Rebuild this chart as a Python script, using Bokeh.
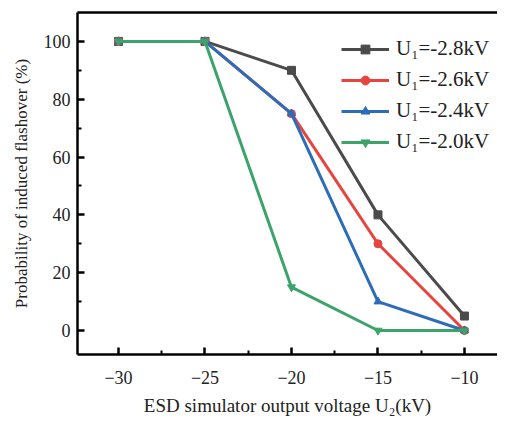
from bokeh.plotting import figure
from bokeh.models import LinearAxis, Range1d, FixedTicker, Legend, LegendItem, CustomJSTickFormatter
from bokeh.embed import file_html
from bokeh.resources import INLINE

x_vals = [-30, -25, -20, -15, -10]
s28 = [100, 100, 90, 40, 5]
s26 = [100, 100, 75, 30, 0]
s24 = [100, 100, 75, 10, 0]
s20 = [100, 100, 15, 0, 0]
labels = ["U\u2081=-2.8kV", "U\u2081=-2.6kV", "U\u2081=-2.4kV", "U\u2081=-2.0kV"]
colors = ["#4b4b4b", "#e8433f", "#2c6cb9", "#3ca36a"]
markers = ["square", "circle", "triangle", "inverted_triangle"]
x_ticks = [-30, -25, -20, -15, -10]
y_ticks = [0, 20, 40, 60, 80, 100]

FONT = "Liberation Serif"

p = figure(width=497, height=418, output_backend="svg", toolbar_location=None,
           x_range=Range1d(-32.37, -8.09), y_range=Range1d(-8.3, 110),
           min_border_left=77, min_border_right=0, min_border_top=12, min_border_bottom=63,
           x_axis_label="ESD simulator output voltage U\u2082(kV)",
           y_axis_label="Probability of induced flashover (%)")
p.outline_line_color = None
p.grid.visible = False
p.background_fill_color = "white"

items = []
for ys, lab, col, mk in zip([s28, s26, s24, s20], labels, colors, markers):
    r1 = p.line(x_vals, ys, line_color=col, line_width=3)
    r2 = p.scatter(x_vals, ys, marker=mk, size=8, fill_color=col, line_color=col)
    items.append(LegendItem(label=lab, renderers=[r1, r2]))

for ax in [p.xaxis[0], p.yaxis[0]]:
    ax.axis_line_width = 2.5
    ax.major_tick_line_width = 2.5
    ax.minor_tick_line_width = 2
    ax.major_tick_in = 7
    ax.major_tick_out = 0
    ax.minor_tick_in = 4
    ax.minor_tick_out = 0
    ax.major_label_text_font = FONT
    ax.major_label_text_font_size = "18px"
    ax.major_label_text_color = "#222222"
    ax.axis_label_text_font = FONT
    ax.axis_label_text_font_style = "normal"
    ax.axis_label_text_color = "#222222"

p.xaxis[0].ticker = FixedTicker(ticks=x_ticks, minor_ticks=[-32.5, -27.5, -22.5, -17.5, -12.5])
p.yaxis[0].ticker = FixedTicker(ticks=y_ticks, minor_ticks=[10, 30, 50, 70, 90])
p.xaxis[0].formatter = CustomJSTickFormatter(code="return tick < 0 ? '\u2212' + Math.abs(tick) : '' + tick;")
p.xaxis[0].axis_label_text_font_size = "19px"
p.yaxis[0].axis_label_text_font_size = "17px"
p.xaxis[0].major_label_standoff = 16
p.yaxis[0].major_label_standoff = 7
p.xaxis[0].axis_label_standoff = 8
p.yaxis[0].axis_label_standoff = 10

top = LinearAxis(ticker=FixedTicker(ticks=[]), major_label_text_font_size="0px",
                 axis_line_width=2.5, major_tick_line_color=None, minor_tick_line_color=None)
p.add_layout(top, "above")

legend = Legend(items=items, location=(264, 200), border_line_color=None,
                background_fill_alpha=0, label_text_font=FONT, label_text_font_size="21px",
                label_text_color="#222222", glyph_width=48, glyph_height=22, label_height=22,
                spacing=6, margin=0, padding=4, label_standoff=7)
p.add_layout(legend)

open("out.html", "w").write(file_html(p, INLINE))
